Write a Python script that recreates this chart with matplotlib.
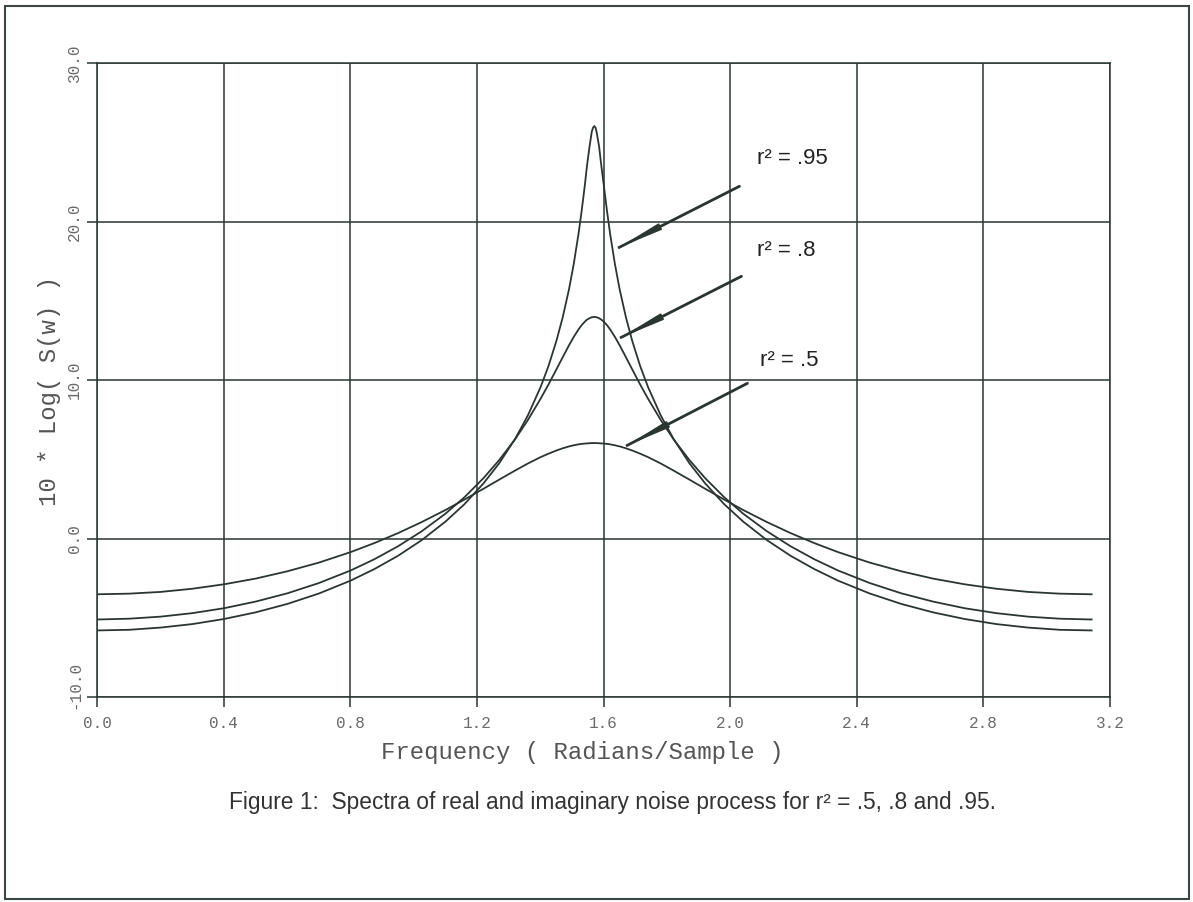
import matplotlib
matplotlib.use("Agg")
import matplotlib.pyplot as plt
from matplotlib.patches import Rectangle
from matplotlib.transforms import ScaledTranslation

# ---- data ----
freq = [0.000, 0.101, 0.201, 0.301, 0.401, 0.501, 0.601, 0.701, 0.801, 0.876,
        0.951, 1.026, 1.101, 1.161, 1.221, 1.271, 1.321, 1.361, 1.401, 1.426,
        1.451, 1.471, 1.491, 1.506, 1.521, 1.531, 1.541, 1.548, 1.556, 1.563,
        1.567, 1.571,
        1.575, 1.578, 1.586, 1.593, 1.601, 1.611, 1.621, 1.636, 1.651, 1.671,
        1.691, 1.716, 1.741, 1.781, 1.821, 1.871, 1.921, 1.981, 2.041, 2.116,
        2.191, 2.266, 2.341, 2.441, 2.541, 2.641, 2.741, 2.841, 2.941, 3.041,
        3.142]

s_r050 = [-3.52, -3.48, -3.37, -3.17, -2.89, -2.53, -2.07, -1.52, -0.86, -0.29,
          0.34, 1.04, 1.80, 2.46, 3.14, 3.72, 4.29, 4.73, 5.13, 5.35,
          5.55, 5.69, 5.81, 5.88, 5.94, 5.97, 5.99, 6.00, 6.01, 6.02,
          6.02, 6.02,
          6.02, 6.02, 6.01, 6.00, 5.99, 5.97, 5.94, 5.88, 5.81, 5.69,
          5.55, 5.35, 5.13, 4.73, 4.29, 3.72, 3.14, 2.46, 1.80, 1.04,
          0.34, -0.29, -0.86, -1.52, -2.07, -2.53, -2.89, -3.17, -3.37, -3.48,
          -3.52]

s_r080 = [-5.11, -5.06, -4.93, -4.71, -4.40, -3.98, -3.46, -2.81, -2.02, -1.31,
          -0.49, 0.46, 1.57, 2.61, 3.81, 4.96, 6.27, 7.47, 8.81, 9.71,
          10.66, 11.43, 12.19, 12.72, 13.19, 13.46, 13.68, 13.81, 13.90, 13.96,
          13.97, 13.98,
          13.97, 13.96, 13.90, 13.81, 13.68, 13.46, 13.19, 12.72, 12.19, 11.43,
          10.66, 9.71, 8.81, 7.47, 6.27, 4.96, 3.81, 2.61, 1.57, 0.46,
          -0.49, -1.31, -2.02, -2.81, -3.46, -3.98, -4.40, -4.71, -4.93, -5.06,
          -5.11]

s_r095 = [-5.80, -5.76, -5.62, -5.40, -5.08, -4.66, -4.13, -3.47, -2.66, -1.93,
          -1.09, -0.10, 1.07, 2.17, 3.48, 4.76, 6.29, 7.76, 9.54, 10.87,
          12.45, 13.94, 15.72, 17.32, 19.21, 20.67, 22.28, 23.54, 24.74, 25.67,
          25.92, 26.02,
          25.92, 25.67, 24.74, 23.54, 22.28, 20.67, 19.21, 17.32, 15.72, 13.94,
          12.45, 10.87, 9.54, 7.76, 6.29, 4.76, 3.48, 2.17, 1.07, -0.10,
          -1.09, -1.93, -2.66, -3.47, -4.13, -4.66, -5.08, -5.40, -5.62, -5.76,
          -5.80]

x_ticks = [0.0, 0.4, 0.8, 1.2, 1.6, 2.0, 2.4, 2.8, 3.2]
x_ticklabels = ["0.0", "0.4", "0.8", "1.2", "1.6", "2.0", "2.4", "2.8", "3.2"]
y_ticks = [-10, 0, 10, 20, 30]
y_ticklabels = ["-10.0", "0.0", "10.0", "20.0", "30.0"]

labels = ["r² = .95", "r² = .8", "r² = .5"]
caption = "Figure 1:  Spectra of real and imaginary noise process for r² = .5, .8 and .95."

# ---- styling ----
W, H = 1193, 902
ink = "#2b3631"
gray = "#6a6a6a"
mono = "Liberation Mono"
sans = "Liberation Sans"

fig = plt.figure(figsize=(W / 100, H / 100), dpi=100)
fig.patch.set_facecolor("white")

ax_l, ax_r, ax_t, ax_b = 97, 1110, 63, 697
ax = fig.add_axes([ax_l / W, 1 - ax_b / H, (ax_r - ax_l) / W, (ax_b - ax_t) / H])

for ys in (s_r050, s_r080, s_r095):
    ax.plot(freq, ys, color=ink, lw=1.3, solid_joinstyle="round")

ax.set_xlim(0, 3.2)
ax.set_ylim(-10, 30)
ax.set_xticks(x_ticks)
ax.set_xticklabels(x_ticklabels, family=mono, fontsize=11.5, color=gray)
ax.set_yticks(y_ticks)
ax.set_yticklabels(y_ticklabels, family=mono, fontsize=11.5, color=gray,
                   rotation=90, va="center", ha="center")
ax.tick_params(axis="both", direction="out", length=7, width=1.1, color=ink)
ax.tick_params(axis="x", pad=7)
ax.tick_params(axis="y", pad=9)
ax.grid(True, color=ink, lw=1.1)
for sp in ax.spines.values():
    sp.set_color(ink)
    sp.set_linewidth(1.1)

# nudge the bottom y label upward like the reference
lbl = ax.get_yticklabels()[0]
lbl.set_transform(lbl.get_transform() + ScaledTranslation(0, 0.12, fig.dpi_scale_trans))

# axis titles
fig.text(582 / W, 1 - 753 / H, "Frequency ( Radians/Sample )", family=mono,
         fontsize=17.3, color="#555555", ha="center", va="center")
fig.text(50 / W, 1 - 391 / H, "10 * Log( S(w) )", family=mono,
         fontsize=17.3, color="#555555", ha="center", va="center", rotation=90)

# annotations with arrows
def px2data(px, py):
    return ((px - ax_l) / (ax_r - ax_l) * 3.2, 30 - (py - ax_t) / (ax_b - ax_t) * 40)

arrows = [((740, 186), (618, 248)), ((742, 276), (620, 338)), ((748, 383), (626, 446))]
text_pos = [(757, 158), (757, 250), (760, 360)]
for lab, (tail, head), tp in zip(labels, arrows, text_pos):
    # shaft reaching all the way to the tip
    ax.annotate("", xy=px2data(*head), xytext=px2data(*tail),
                arrowprops=dict(arrowstyle="-", lw=2.0, color=ink,
                                shrinkA=0, shrinkB=0, capstyle="butt"))
    # slender arrow head
    ax.annotate("", xy=px2data(*head), xytext=px2data(*tail),
                arrowprops=dict(arrowstyle="-|>,head_length=2.6,head_width=0.2",
                                lw=1.2, color=ink, shrinkA=0, shrinkB=0,
                                mutation_scale=10))
    ax.text(*px2data(*tp), lab, family=sans, fontsize=16, color="#222222",
            ha="left", va="center")

fig.text(612 / W, 1 - 803 / H, caption, family=sans, fontsize=16.4,
         color="#333333", ha="center", va="center")

# outer border
fig.add_artist(Rectangle((5 / W, 1 - 899 / H), (1189 - 5) / W, (899 - 6) / H,
                         transform=fig.transFigure, fill=False, lw=1.5,
                         edgecolor="#3a4640"))

fig.savefig("out.png", dpi=100, facecolor="white")
